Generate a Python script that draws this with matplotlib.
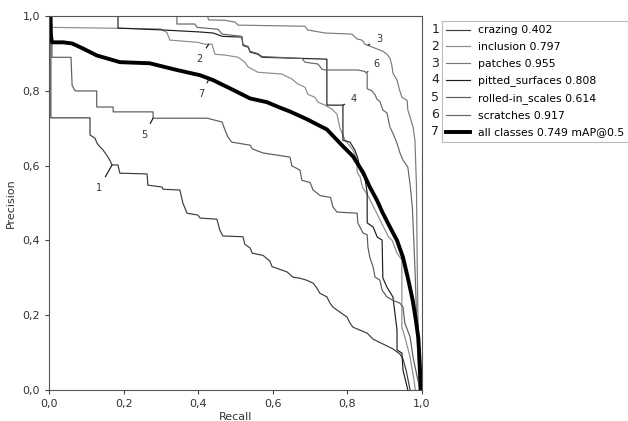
import matplotlib
matplotlib.use("Agg")
import matplotlib.pyplot as plt
from matplotlib.ticker import FuncFormatter

# class names and AP values
names = ["crazing", "inclusion", "patches", "pitted_surfaces",
         "rolled-in_scales", "scratches", "all classes"]
ap = [0.402, 0.797, 0.955, 0.808, 0.614, 0.917, 0.749]

# (recall, precision) points
crazing = [(0, 1), (0.005, 1), (0.005, 0.728), (0.11, 0.728), (0.11, 0.682), (0.123, 0.674),
           (0.129, 0.66), (0.137, 0.65), (0.145, 0.642), (0.155, 0.628), (0.163, 0.615),
           (0.169, 0.602), (0.185, 0.602), (0.19, 0.58), (0.263, 0.578), (0.265, 0.548),
           (0.303, 0.543), (0.306, 0.537), (0.351, 0.535), (0.359, 0.50), (0.37, 0.473),
           (0.399, 0.468), (0.405, 0.46), (0.45, 0.457), (0.458, 0.428), (0.466, 0.412),
           (0.52, 0.41), (0.525, 0.39), (0.539, 0.38), (0.545, 0.366), (0.574, 0.36),
           (0.592, 0.345), (0.598, 0.33), (0.638, 0.316), (0.654, 0.302), (0.673, 0.299),
           (0.69, 0.294), (0.708, 0.286), (0.718, 0.273), (0.726, 0.259), (0.745, 0.249),
           (0.753, 0.233), (0.761, 0.222), (0.799, 0.195), (0.807, 0.179), (0.815, 0.168),
           (0.853, 0.152), (0.869, 0.136), (0.922, 0.11), (0.941, 0.096), (0.949, 0.083),
           (0.958, 0.05), (0.968, 0.0)]

inclusion = [(0, 1), (0.008, 1), (0.008, 0.97), (0.30, 0.966), (0.303, 0.963), (0.316, 0.957),
             (0.324, 0.936), (0.399, 0.93), (0.418, 0.925), (0.437, 0.925), (0.445, 0.898),
             (0.472, 0.896), (0.507, 0.89), (0.525, 0.877), (0.534, 0.864), (0.56, 0.85),
             (0.625, 0.845), (0.651, 0.832), (0.668, 0.818), (0.686, 0.81), (0.694, 0.791),
             (0.713, 0.783), (0.721, 0.77), (0.74, 0.762), (0.759, 0.751), (0.772, 0.738),
             (0.78, 0.70), (0.794, 0.668), (0.815, 0.642), (0.826, 0.615), (0.826, 0.583),
             (0.834, 0.57), (0.84, 0.543), (0.855, 0.52), (0.87, 0.49), (0.885, 0.46),
             (0.90, 0.43), (0.91, 0.41), (0.92, 0.40), (0.933, 0.366), (0.946, 0.348),
             (0.946, 0.168), (0.954, 0.142), (0.968, 0.088), (0.978, 0.03), (0.982, 0.0)]

patches = [(0, 1), (0.425, 1), (0.428, 0.99), (0.472, 0.989), (0.499, 0.984), (0.507, 0.976),
           (0.686, 0.973), (0.694, 0.963), (0.74, 0.955), (0.812, 0.952), (0.826, 0.939),
           (0.839, 0.936), (0.847, 0.925), (0.855, 0.922), (0.895, 0.906), (0.906, 0.898),
           (0.914, 0.888), (0.919, 0.869), (0.922, 0.848), (0.933, 0.829), (0.94, 0.802),
           (0.946, 0.783), (0.96, 0.775), (0.962, 0.749), (0.968, 0.73), (0.976, 0.703),
           (0.981, 0.668), (0.985, 0.55), (0.987, 0.35), (0.989, 0.2), (0.992, 0.08),
           (0.995, 0.0)]

pitted = [(0, 1), (0.185, 1), (0.185, 0.968), (0.306, 0.963), (0.40, 0.958), (0.44, 0.955),
          (0.465, 0.946), (0.517, 0.944), (0.52, 0.922), (0.534, 0.917), (0.539, 0.904),
          (0.56, 0.898), (0.571, 0.89), (0.745, 0.885), (0.745, 0.762), (0.788, 0.762),
          (0.788, 0.668), (0.807, 0.663), (0.82, 0.642), (0.828, 0.62), (0.834, 0.588),
          (0.847, 0.567), (0.853, 0.527), (0.853, 0.447), (0.869, 0.436), (0.88, 0.409),
          (0.893, 0.401), (0.895, 0.30), (0.906, 0.275), (0.922, 0.249), (0.933, 0.16),
          (0.933, 0.107), (0.946, 0.099), (0.949, 0.053), (0.962, 0.0)]

rolled = [(0, 1), (0.008, 1), (0.008, 0.89), (0.059, 0.89), (0.062, 0.815), (0.07, 0.80),
          (0.128, 0.80), (0.128, 0.757), (0.172, 0.757), (0.172, 0.744), (0.279, 0.744),
          (0.279, 0.727), (0.424, 0.727), (0.464, 0.717), (0.472, 0.695), (0.48, 0.676),
          (0.49, 0.663), (0.539, 0.655), (0.545, 0.645), (0.574, 0.634), (0.646, 0.623),
          (0.651, 0.60), (0.673, 0.588), (0.678, 0.561), (0.70, 0.555), (0.708, 0.535),
          (0.727, 0.52), (0.755, 0.515), (0.761, 0.49), (0.772, 0.476), (0.826, 0.473),
          (0.828, 0.447), (0.842, 0.42), (0.853, 0.415), (0.855, 0.382), (0.86, 0.355),
          (0.869, 0.329), (0.874, 0.302), (0.887, 0.294), (0.893, 0.267), (0.906, 0.249),
          (0.922, 0.24), (0.941, 0.232), (0.949, 0.222), (0.954, 0.179), (0.968, 0.142),
          (0.976, 0.088), (0.987, 0.035), (0.995, 0.0)]

scratches = [(0, 1), (0.343, 1), (0.343, 0.979), (0.391, 0.979), (0.397, 0.97), (0.453, 0.965),
             (0.464, 0.952), (0.5, 0.948), (0.517, 0.946), (0.52, 0.924), (0.534, 0.919),
             (0.539, 0.906), (0.56, 0.90), (0.571, 0.892), (0.678, 0.887), (0.686, 0.877),
             (0.721, 0.872), (0.732, 0.858), (0.74, 0.856), (0.828, 0.856), (0.847, 0.852),
             (0.853, 0.845), (0.853, 0.806), (0.866, 0.80), (0.874, 0.79), (0.879, 0.778),
             (0.887, 0.772), (0.895, 0.749), (0.906, 0.741), (0.914, 0.703), (0.922, 0.687),
             (0.933, 0.66), (0.941, 0.634), (0.949, 0.615), (0.962, 0.596), (0.968, 0.55),
             (0.974, 0.49), (0.978, 0.40), (0.982, 0.30), (0.986, 0.18), (0.99, 0.06),
             (0.992, 0.0)]

all_classes = [(0, 1), (0.003, 1), (0.005, 0.95), (0.008, 0.93), (0.038, 0.93), (0.062, 0.927),
               (0.09, 0.914), (0.128, 0.895), (0.19, 0.877), (0.27, 0.874), (0.343, 0.856),
               (0.405, 0.842), (0.44, 0.829), (0.458, 0.82), (0.485, 0.807), (0.539, 0.78),
               (0.584, 0.77), (0.62, 0.755), (0.646, 0.745), (0.69, 0.725), (0.745, 0.697),
               (0.788, 0.652), (0.815, 0.625), (0.842, 0.582), (0.86, 0.543), (0.879, 0.508),
               (0.895, 0.473), (0.914, 0.436), (0.933, 0.40), (0.949, 0.355), (0.962, 0.30),
               (0.975, 0.24), (0.983, 0.19), (0.99, 0.14), (0.994, 0.07), (0.997, 0.0)]

curves = [crazing, inclusion, patches, pitted, rolled, scratches, all_classes]
colors = ["#3c3c3c", "#8c8c8c", "#7a7a7a", "#1e1e1e", "#5a5a5a", "#666666", "#000000"]
widths = [0.85, 0.85, 0.85, 0.85, 0.85, 0.85, 2.8]

# where the little curve numbers sit: (point on curve, text position)
marks = [((0.169, 0.602), (0.134, 0.54)),
         ((0.428, 0.925), (0.402, 0.885)),
         ((0.855, 0.922), (0.885, 0.94)),
         ((0.788, 0.762), (0.818, 0.778)),
         ((0.279, 0.727), (0.255, 0.682)),
         ((0.853, 0.85), (0.879, 0.872)),
         ((0.428, 0.83), (0.408, 0.791))]

fig = plt.figure(figsize=(6.28, 4.21), dpi=100)
ax = fig.add_axes([0.078, 0.0736, 0.594, 0.888])

for i, pts in enumerate(curves):
    r = [p[0] for p in pts]
    pr = [p[1] for p in pts]
    label = "%s %.3f" % (names[i], ap[i])
    if i == 6:
        label += " mAP@0.5"
    ax.plot(r, pr, color=colors[i], lw=widths[i], label=label)

for i, (xy, txt) in enumerate(marks):
    ax.annotate(str(i + 1), xy=xy, xytext=txt, fontsize=7, ha="center", va="center",
                color="#333333",
                arrowprops=dict(arrowstyle="-", color="#222222", lw=0.9, shrinkA=3, shrinkB=0))

ax.set_xlim(0, 1)
ax.set_ylim(0, 1)
ax.set_xticks([0, 0.2, 0.4, 0.6, 0.8, 1.0])
ax.set_yticks([0, 0.2, 0.4, 0.6, 0.8, 1.0])
comma = FuncFormatter(lambda v, pos: ("%.1f" % v).replace(".", ","))
ax.xaxis.set_major_formatter(comma)
ax.yaxis.set_major_formatter(comma)
ax.tick_params(labelsize=8, length=3, color="#444444", labelcolor="#333333")
for s in ax.spines.values():
    s.set_color("#555555")
ax.set_xlabel("Recall", fontsize=8, color="#333333", labelpad=2)
ax.set_ylabel("Precision", fontsize=8, color="#333333", labelpad=5)

leg = fig.legend(loc="upper left", bbox_to_anchor=(0.704, 0.95), fontsize=7.8,
                 frameon=True, fancybox=False, edgecolor="#aaaaaa",
                 handlelength=2.2, handletextpad=0.7, labelspacing=0.62,
                 borderpad=0.4, borderaxespad=0)
leg.get_frame().set_linewidth(0.8)

# numbers 1..7 to the left of the legend box
fig.canvas.draw()
frame = leg.get_frame().get_window_extent()
inv = fig.transFigure.inverted()
for i, line in enumerate(leg.get_lines()):
    bb = line.get_window_extent()
    x, y = inv.transform((frame.x0 - 3, (bb.y0 + bb.y1) / 2))
    fig.text(x, y, str(i + 1), fontsize=9, ha="right", va="center", color="#222222")

fig.savefig("out.png", dpi=100)
